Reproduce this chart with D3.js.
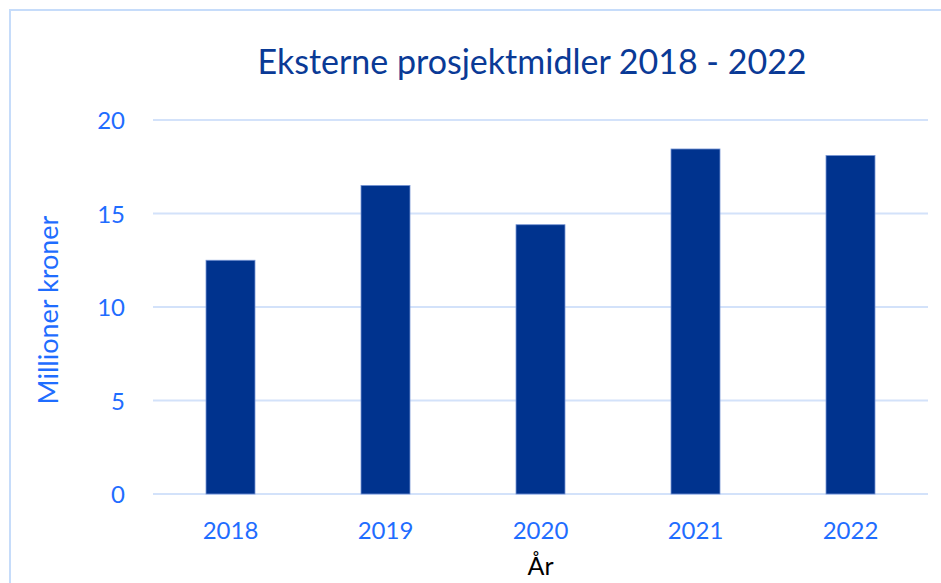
<!DOCTYPE html>
<html>
<head>
<meta charset="utf-8">
<script src="https://cdn.jsdelivr.net/npm/d3@7"></script>
<style>
  body { margin: 0; background: #fff; }
  text { font-family: Lato, "Open Sans", sans-serif; }
</style>
</head>
<body>
<div id="chart"></div>
<script>
// data
var years = ["2018", "2019", "2020", "2021", "2022"];
var values = [12.5, 16.5, 14.4, 18.45, 18.1];
var yTicks = [0, 5, 10, 15, 20];

var svgWidth = 941;
var svgHeight = 583;

var margin = { top: 120, right: 13, bottom: 89, left: 153 };
var width = svgWidth - margin.left - margin.right;
var height = svgHeight - margin.top - margin.bottom;

var tickBlue = "#1f6dff";
var darkBlue = "#00338e";

var svg = d3.select("#chart")
  .append("svg")
  .attr("width", svgWidth)
  .attr("height", svgHeight);

// outer frame
svg.append("rect")
  .attr("x", 10)
  .attr("y", 10)
  .attr("width", svgWidth)
  .attr("height", svgHeight)
  .attr("fill", "none")
  .attr("stroke", "#c6dcfa")
  .attr("stroke-width", 2);

var chartGroup = svg.append("g")
  .attr("transform", `translate(${margin.left}, ${margin.top})`);

var xScale = d3.scaleBand()
  .domain(years)
  .range([0, width])
  .paddingInner(0.684)
  .paddingOuter(0.342);

var yScale = d3.scaleLinear()
  .domain([0, 20])
  .range([height, 0]);

// gridlines
chartGroup.selectAll(".grid")
  .data(yTicks)
  .enter()
  .append("line")
  .attr("x1", 0)
  .attr("x2", width)
  .attr("y1", d => yScale(d))
  .attr("y2", d => yScale(d))
  .attr("stroke", "#d3e2fa")
  .attr("stroke-width", 2);

var leftAxis = d3.axisLeft(yScale)
  .tickValues(yTicks)
  .tickSize(0)
  .tickPadding(28);

var yAxisG = chartGroup.append("g").call(leftAxis);
yAxisG.select(".domain").remove();
yAxisG.selectAll("text")
  .attr("fill", tickBlue)
  .style("font-size", "24px")
  .attr("dy", "0.36em");

var bottomAxis = d3.axisBottom(xScale)
  .tickSize(0)
  .tickPadding(28);

var xAxisG = chartGroup.append("g")
  .attr("transform", `translate(0, ${height})`)
  .call(bottomAxis);
xAxisG.select(".domain").remove();
xAxisG.selectAll("text")
  .attr("fill", tickBlue)
  .style("font-size", "24px");

chartGroup.selectAll(".bar")
  .data(values)
  .enter()
  .append("rect")
  .attr("x", (d, i) => xScale(years[i]))
  .attr("y", d => yScale(d))
  .attr("width", xScale.bandwidth())
  .attr("height", d => height - yScale(d))
  .attr("fill", darkBlue)
  .attr("stroke", "#7594d4")
  .attr("stroke-width", 0.8);

// title
svg.append("text")
  .attr("x", 532)
  .attr("y", 74)
  .attr("text-anchor", "middle")
  .attr("fill", "#0a3a96")
  .style("font-size", "34px")
  .text("Eksterne prosjektmidler 2018 - 2022");

// axis titles
svg.append("text")
  .attr("transform", "rotate(-90)")
  .attr("x", -310)
  .attr("y", 58)
  .attr("text-anchor", "middle")
  .attr("fill", tickBlue)
  .style("font-size", "27px")
  .text("Millioner kroner");

svg.append("text")
  .attr("x", margin.left + width / 2)
  .attr("y", 575)
  .attr("text-anchor", "middle")
  .attr("fill", "#000")
  .style("font-size", "25px")
  .text("År");
</script>
</body>
</html>
